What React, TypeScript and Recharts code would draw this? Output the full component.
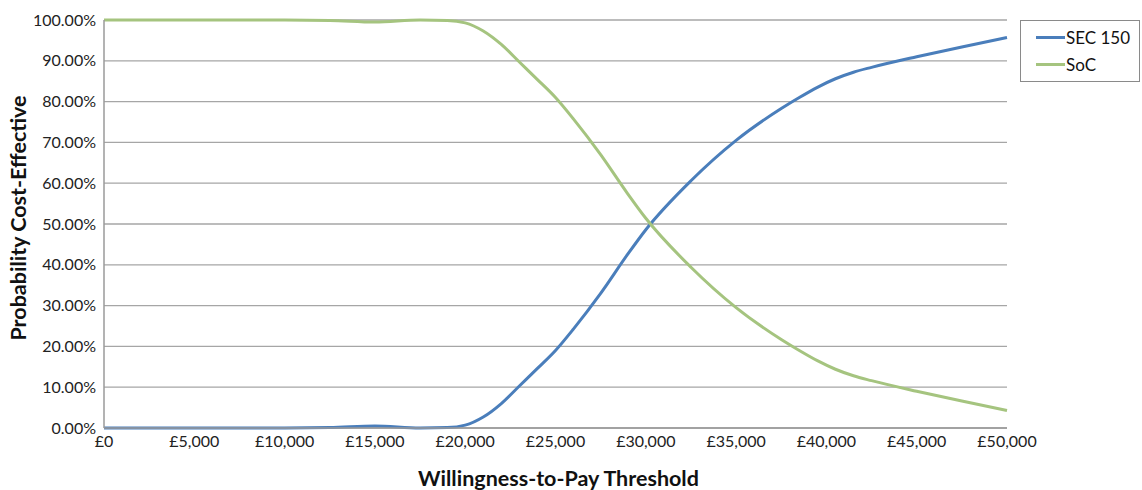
import React from 'react';
import { LineChart, Line, XAxis, YAxis, CartesianGrid, Legend } from 'recharts';

// Willingness-to-pay thresholds (£)
const thresholds = [
  0, 2500, 5000, 7500, 10000, 12500, 15000, 17500, 19000, 20000, 21000, 22000, 23000, 24000, 25000,
  26000, 27500, 29000, 30000, 32500, 35000, 37500, 38500, 39500, 40500, 41500, 42500, 45000, 47500, 50000,
];

// Probability cost-effective (%) per threshold
const sec150 = [
  0, 0, 0, 0, 0, 0.1, 0.5, 0, 0.1, 0.7, 2.7, 6, 10.3, 14.6, 19,
  24.3, 33, 42.6, 48.6, 60.6, 70.5, 78.3, 81, 83.5, 85.6, 87.2, 88.4, 91, 93.4, 95.7,
];
const soc = [
  100, 100, 100, 100, 100, 99.9, 99.5, 100, 99.9, 99.3, 97.3, 94, 89.7, 85.4, 81,
  75.7, 67, 57.4, 51.4, 39.4, 29.5, 21.7, 19, 16.5, 14.4, 12.8, 11.6, 9, 6.6, 4.3,
];

const xTicks = [0, 5000, 10000, 15000, 20000, 25000, 30000, 35000, 40000, 45000, 50000];
const yTicks = [0, 10, 20, 30, 40, 50, 60, 70, 80, 90, 100];

const seriesNames = ['SEC 150', 'SoC'];
const seriesColors = ['#4a7ebb', '#a5c47f'];

const data = thresholds.map((t, i) => ({ wtp: t, sec: sec150[i], soc: soc[i] }));

const FONT = 'Lato, "Open Sans", sans-serif';

const formatPounds = (v: number) => '£' + String(v).replace(/\B(?=(\d{3})+(?!\d))/g, ',');
const formatPct = (v: number) => v.toFixed(2) + '%';

const YTitle = (props: any) => {
  const vb = props.viewBox || {};
  const cx = (vb.x ?? 0) + 18;
  const cy = (vb.y ?? 0) + (vb.height ?? 0) / 2 - 6;
  return (
    <text
      x={cx}
      y={cy}
      transform={`rotate(-90, ${cx}, ${cy})`}
      textAnchor="middle"
      dominantBaseline="central"
      fontFamily={FONT}
      fontWeight={700}
      fontSize={21.5}
      fill="#111"
    >
      Probability Cost-Effective
    </text>
  );
};

const XTitle = (props: any) => {
  const vb = props.viewBox || {};
  const cx = (vb.x ?? 0) + (vb.width ?? 0) / 2 + 3;
  const cy = 478;
  return (
    <text x={cx} y={cy} textAnchor="middle" dominantBaseline="central" fontFamily={FONT} fontWeight={700} fontSize={21.5} fill="#111">
      Willingness-to-Pay Threshold
    </text>
  );
};

const LegendBox = () => (
  <div
    style={{
      border: '1px solid #8a8a8a',
      background: '#fff',
      boxSizing: 'border-box',
      width: 120,
      height: 62,
      padding: '3px 0 0 15px',
      fontFamily: FONT,
      fontSize: 17,
      color: '#111',
    }}
  >
    {seriesNames.map((n, i) => (
      <div key={n} style={{ display: 'flex', alignItems: 'center', height: 27 }}>
        <span style={{ display: 'inline-block', width: 29, height: 3, background: seriesColors[i], marginRight: 1 }} />
        <span>{n}</span>
      </div>
    ))}
  </div>
);

export default function App() {
  return (
    <div style={{ position: 'absolute', left: 0, top: 0, width: 1142, height: 490, background: '#fff' }}>
      <LineChart width={1142} height={490} data={data} margin={{ top: 20, right: 15, bottom: 0, left: 0 }}>
        <CartesianGrid horizontal vertical={false} stroke="#a6a6a6" strokeWidth={1.3} />
        <XAxis
          dataKey="wtp"
          type="number"
          domain={[0, 50000]}
          ticks={xTicks}
          tickFormatter={formatPounds}
          axisLine={{ stroke: '#9a9a9a', strokeWidth: 1.5 }}
          tickLine={false}
          tickMargin={2}
          height={62}
          tick={{ fontFamily: FONT, fontSize: 16, fill: '#222' }}
          interval={0}
          label={<XTitle />}
        />
        <YAxis
          type="number"
          domain={[0, 100]}
          ticks={yTicks}
          tickFormatter={formatPct}
          axisLine={{ stroke: '#9a9a9a', strokeWidth: 1.5 }}
          tickLine={false}
          tickMargin={2}
          width={104}
          tick={{ fontFamily: FONT, fontSize: 16, fill: '#222' }}
          interval={0}
          label={<YTitle />}
        />
        <Legend
          layout="vertical"
          align="right"
          verticalAlign="top"
          content={<LegendBox />}
          wrapperStyle={{ width: 120, right: 2, top: 20, left: 'auto' }}
        />
        <Line type="monotone" dataKey="sec" name={seriesNames[0]} stroke={seriesColors[0]} strokeWidth={3} dot={false} isAnimationActive={false} />
        <Line type="monotone" dataKey="soc" name={seriesNames[1]} stroke={seriesColors[1]} strokeWidth={3} dot={false} isAnimationActive={false} />
      </LineChart>
    </div>
  );
}
